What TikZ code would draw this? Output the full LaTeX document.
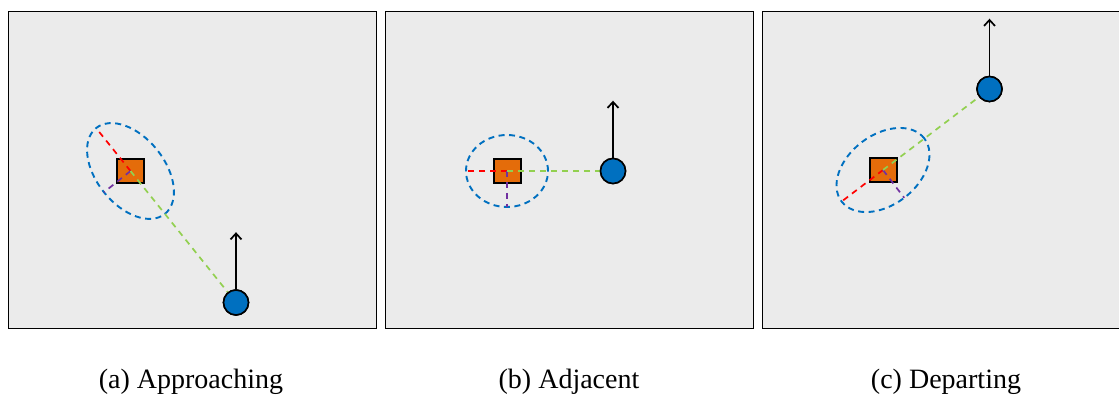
\documentclass[tikz,border=0pt]{standalone}
\usepackage{fontspec}
\setmainfont{Liberation Serif}
\usetikzlibrary{arrows.meta}
\definecolor{panelbg}{HTML}{EBEBEB}
\definecolor{boxor}{HTML}{E46C0A}
\definecolor{agentblue}{HTML}{0070C0}
\definecolor{ellblue}{HTML}{0070C0}
\definecolor{redl}{HTML}{FF0000}
\definecolor{greenl}{HTML}{92D050}
\definecolor{purplel}{HTML}{7030A0}
\tikzset{
  panel/.style={draw=black, line width=1pt, fill=panelbg},
  obst/.style={draw=black, line width=2pt, fill=boxor, minimum width=27pt, minimum height=24pt, inner sep=0pt, shape=rectangle},
  agent/.style={draw=black, line width=1.6pt, fill=agentblue, circle, minimum size=25pt, inner sep=0pt},
  ellb/.style={draw=ellblue, line width=1.9pt, dash pattern=on 6pt off 4.5pt},
  rdash/.style={draw=redl, line width=1.7pt, dash pattern=on 6pt off 5pt},
  gdash/.style={draw=greenl, line width=1.7pt, dash pattern=on 6pt off 5pt},
  pdash/.style={draw=purplel, line width=1.7pt, dash pattern=on 6pt off 5pt},
  vel/.style={draw=black, line width=1.7pt, -{Straight Barb[length=6pt,width=11pt,line width=1.7pt]}},
  captext/.style={anchor=base, font=\fontsize{28}{34}\selectfont, inner sep=0pt}
}
\begin{document}
\begin{tikzpicture}[x=1pt,y=1pt]
\useasboundingbox (0,0) rectangle (1119,394);
\clip (0,0) rectangle (1119,394);
% panels
\path[panel] (8,66) rectangle (376,382);
\path[panel] (385,66) rectangle (753,382);
\path[panel] (762,66) rectangle (1130,382);

% ---------- (a) ----------
\node[obst] (sqA) at (130.5,223) {};
\node[agent] (agA) at (236,91.5) {};
\path (sqA.center) ++(128.7:55) coordinate (rA);
\path (sqA.center) ++(218.7:34) coordinate (pA);
\path (agA.north) ++(0,57) coordinate (vA);
\draw[ellb, rotate around={-51.3:(sqA.center)}] (sqA.center) ellipse [x radius=55pt, y radius=34pt];
\draw[rdash] (sqA.center) -- (rA);
\draw[pdash] (sqA.center) -- (pA);
\draw[gdash] (sqA.center) -- (agA);
\node[agent] at (agA) {};
\draw[vel] (agA.north) -- (vA);

% ---------- (b) ----------
\node[obst] (sqB) at (507,223) {};
\node[agent] (agB) at (613,223) {};
\path (sqB.center) ++(180:41) coordinate (rB);
\path (sqB.center) ++(270:36) coordinate (pB);
\path (agB.north) ++(0,57) coordinate (vB);
\draw[ellb] (sqB.center) ellipse [x radius=41pt, y radius=36pt];
\draw[rdash] (sqB.center) -- (rB);
\draw[pdash] (sqB.center) -- (pB);
\draw[gdash] (sqB.center) -- (agB);
\node[agent] at (agB) {};
\draw[vel] (agB.north) -- (vB);

% ---------- (c) ----------
\node[obst] (sqC) at (883,224) {};
\node[agent] (agC) at (989.5,305) {};
\path (sqC.center) ++(217.3:52) coordinate (rC);
\path (sqC.center) ++(307.3:35) coordinate (pC);
\path (agC.north) ++(0,57) coordinate (vC);
\draw[ellb, rotate around={37.3:(sqC.center)}] (sqC.center) ellipse [x radius=52pt, y radius=35pt];
\draw[rdash] (sqC.center) -- (rC);
\draw[pdash] (sqC.center) -- (pC);
\draw[gdash] (sqC.center) -- (agC);
\node[agent] at (agC) {};
\draw[vel] (agC.north) -- (vC);

% captions
\node[captext] (capA) at (191,6) {(a) Approaching};
\node[captext] (capB) at (569,6) {(b) Adjacent};
\node[captext] (capC) at (946,6) {(c) Departing};
\end{tikzpicture}
\end{document}
